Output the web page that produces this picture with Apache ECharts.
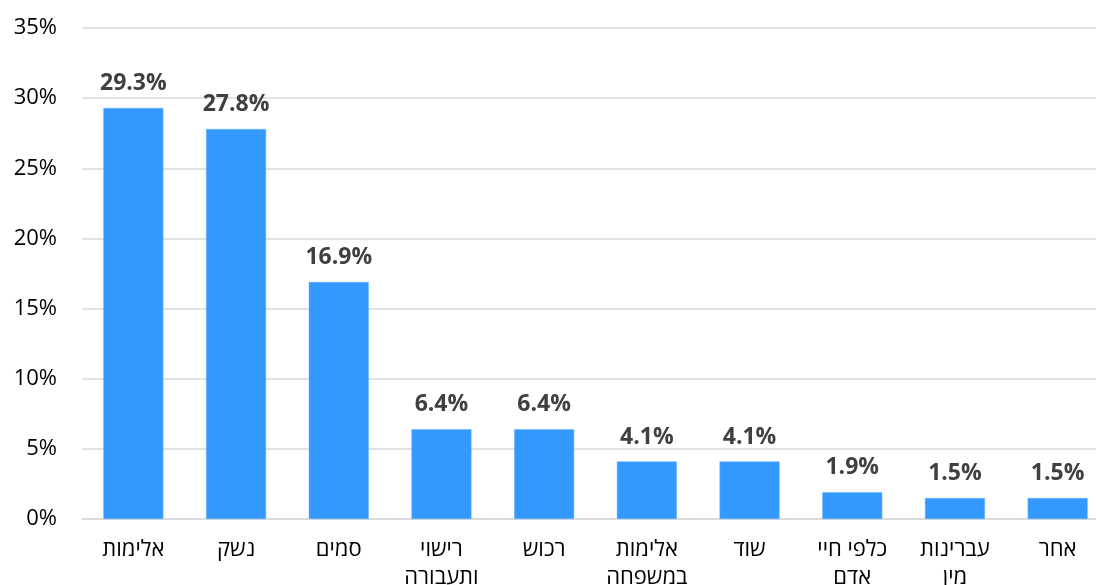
<!DOCTYPE html>
<html>
<head>
<meta charset="utf-8">
<script src="https://cdn.jsdelivr.net/npm/echarts@6/dist/echarts.min.js"></script>
<style>html,body{margin:0;padding:0;background:#fff;overflow:hidden}#c{width:1096px;height:585px}</style>
</head>
<body>
<div id="c"></div>
<script>
const categories = ["אלימות", "נשק", "סמים", "רישוי\nותעבורה", "רכוש", "אלימות\nבמשפחה", "שוד", "כלפי חיי\nאדם", "עברינות\nמין", "אחר"];
const values = [29.3, 27.8, 16.9, 6.4, 6.4, 4.1, 4.1, 1.9, 1.5, 1.5];
const yTicks = [0, 5, 10, 15, 20, 25, 30, 35];

const font = "'Open Sans', 'DejaVu Sans', sans-serif";
const chart = echarts.init(document.getElementById('c'));
chart.setOption({
  animation: false,
  grid: { left: 82, width: 1027, top: 28, height: 491, containLabel: false, outerBoundsMode: 'none' },
  xAxis: {
    type: 'category',
    data: categories,
    axisLine: { show: true, lineStyle: { color: '#d9d9d9', width: 1.5 } },
    axisTick: { show: false },
    axisLabel: { fontFamily: font, fontSize: 22, color: '#000', margin: 17, lineHeight: 28, interval: 0 }
  },
  yAxis: {
    type: 'value',
    min: yTicks[0], max: yTicks[yTicks.length - 1], interval: 5,
    axisLine: { show: false },
    axisTick: { show: false },
    splitLine: { lineStyle: { color: '#d9d9d9', width: 1.5 } },
    axisLabel: { fontFamily: font, fontSize: 22, color: '#000', margin: 25, formatter: v => v + '%' }
  },
  series: [{
    type: 'bar',
    data: values,
    barWidth: 60,
    itemStyle: { color: '#3399FF', borderColor: '#66b2ff', borderWidth: 0.5 },
    label: {
      show: true, position: 'top', distance: 13,
      fontFamily: font, fontSize: 23, fontWeight: 'bold', color: '#404040',
      formatter: p => p.value.toFixed(1) + '%'
    }
  }]
});
</script>
</body>
</html>
